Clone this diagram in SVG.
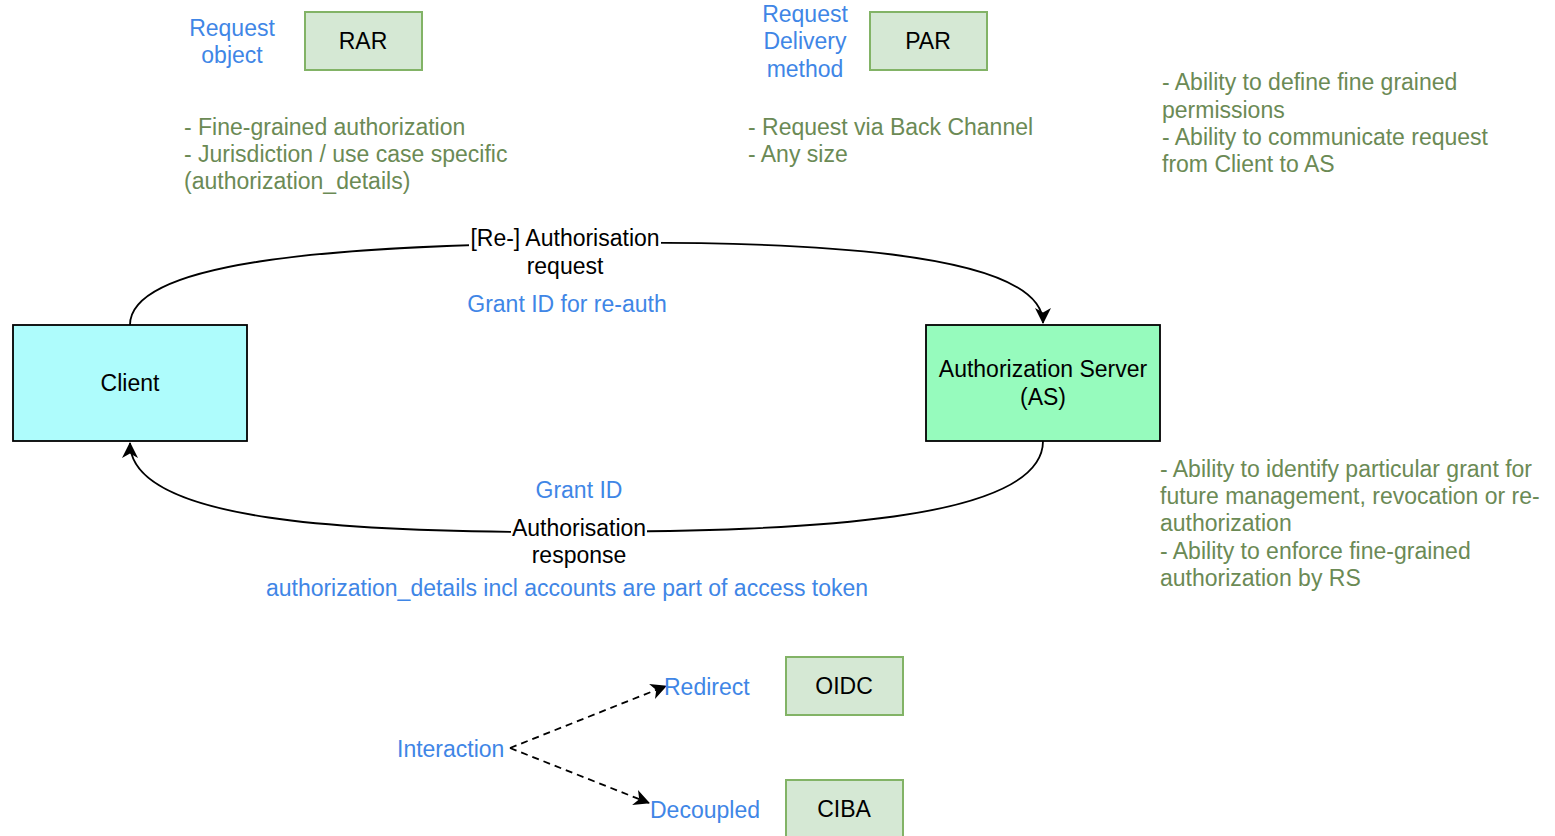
<svg xmlns="http://www.w3.org/2000/svg" width="1555" height="836" viewBox="0 0 1555 836">
  <defs>
    <style>
      text { font-family: "Liberation Sans", Arial, sans-serif; font-size: 23px; }
      .blue { fill: #3f86e6; }
      .green { fill: #6b8a55; }
      .dark { fill: #000; }
      .mid { text-anchor: middle; }
      .spec { fill: #d5e8d4; stroke: #82b366; stroke-width: 2; }
      .edge { fill: none; stroke: #000; stroke-width: 1.8; }
      .dash { fill: none; stroke: #000; stroke-width: 1.8; stroke-dasharray: 7 5; }
      .lbl { fill: #fff; }
    </style>
    <marker id="arrowBig" viewBox="0 0 16 16" refX="15" refY="8" markerWidth="16" markerHeight="16" markerUnits="userSpaceOnUse" orient="auto">
      <path d="M0,0 L16,8 L0,16 L4.5,8 Z" fill="#000"/>
    </marker>
  </defs>

  <!-- connectors -->
  <g id="connectors">
    <path class="edge" d="M130,325 C130,262 330,246 565,243 C800,240 1043,250 1043,323" marker-end="url(#arrowBig)"/>
    <path class="edge" d="M1043,441 C1043,522 800,531 579,532 C350,533 130,522 130,443" marker-end="url(#arrowBig)"/>
    <path class="dash" d="M510,748 L666,686" marker-end="url(#arrowBig)"/>
    <path class="dash" d="M510,748 L649,803" marker-end="url(#arrowBig)"/>
  </g>

  <!-- edge labels -->
  <g id="edge-labels">
    <rect class="lbl" x="469" y="226" width="192" height="26"/>
    <text class="dark mid" x="565" y="246">[Re-] Authorisation</text>
    <text class="dark mid" x="565" y="274">request</text>
    <text class="blue mid" x="567" y="312">Grant ID for re-auth</text>
    <text class="blue mid" x="579" y="498">Grant ID</text>
    <rect class="lbl" x="511" y="516" width="136" height="26"/>
    <text class="dark mid" x="579" y="536">Authorisation</text>
    <text class="dark mid" x="579" y="563">response</text>
    <text class="blue mid" x="567" y="596">authorization_details incl accounts are part of access token</text>
  </g>

  <g id="client">
    <rect x="13" y="325" width="234" height="116" fill="#aefcfc" stroke="#000" stroke-width="1.8"/>
    <text class="dark mid" x="130" y="391">Client</text>
  </g>

  <g id="as">
    <rect x="926" y="325" width="234" height="116" fill="#96fbbd" stroke="#000" stroke-width="1.8"/>
    <text class="dark mid" x="1043" y="377">Authorization Server</text>
    <text class="dark mid" x="1043" y="405">(AS)</text>
  </g>

  <g id="rar">
    <text class="blue mid" x="232" y="36">Request</text>
    <text class="blue mid" x="232" y="63">object</text>
    <rect class="spec" x="305" y="12" width="117" height="58"/>
    <text class="dark mid" x="363" y="49">RAR</text>
  </g>

  <g id="rar-notes">
    <text class="green" x="184" y="135">- Fine-grained authorization</text>
    <text class="green" x="184" y="162">- Jurisdiction / use case specific</text>
    <text class="green" x="184" y="189">(authorization_details)</text>
  </g>

  <g id="par">
    <text class="blue mid" x="805" y="22">Request</text>
    <text class="blue mid" x="805" y="49">Delivery</text>
    <text class="blue mid" x="805" y="77">method</text>
    <rect class="spec" x="870" y="12" width="117" height="58"/>
    <text class="dark mid" x="928" y="49">PAR</text>
  </g>

  <g id="par-notes">
    <text class="green" x="748" y="135">- Request via Back Channel</text>
    <text class="green" x="748" y="162">- Any size</text>
  </g>

  <g id="request-notes">
    <text class="green" x="1162" y="90">- Ability to define fine grained</text>
    <text class="green" x="1162" y="118">permissions</text>
    <text class="green" x="1162" y="145">- Ability to communicate request</text>
    <text class="green" x="1162" y="172">from Client to AS</text>
  </g>

  <g id="response-notes">
    <text class="green" x="1160" y="477">- Ability to identify particular grant for</text>
    <text class="green" x="1160" y="504">future management, revocation or re-</text>
    <text class="green" x="1160" y="531">authorization</text>
    <text class="green" x="1160" y="559">- Ability to enforce fine-grained</text>
    <text class="green" x="1160" y="586">authorization by RS</text>
  </g>

  <g id="interaction">
    <text class="blue" x="397" y="757">Interaction</text>
  </g>

  <g id="redirect">
    <text class="blue" x="664" y="695">Redirect</text>
  </g>

  <g id="decoupled">
    <text class="blue" x="650" y="818">Decoupled</text>
  </g>

  <g id="oidc">
    <rect class="spec" x="786" y="657" width="117" height="58"/>
    <text class="dark mid" x="844" y="694">OIDC</text>
  </g>

  <g id="ciba">
    <rect class="spec" x="786" y="780" width="117" height="58"/>
    <text class="dark mid" x="844" y="817">CIBA</text>
  </g>
</svg>
